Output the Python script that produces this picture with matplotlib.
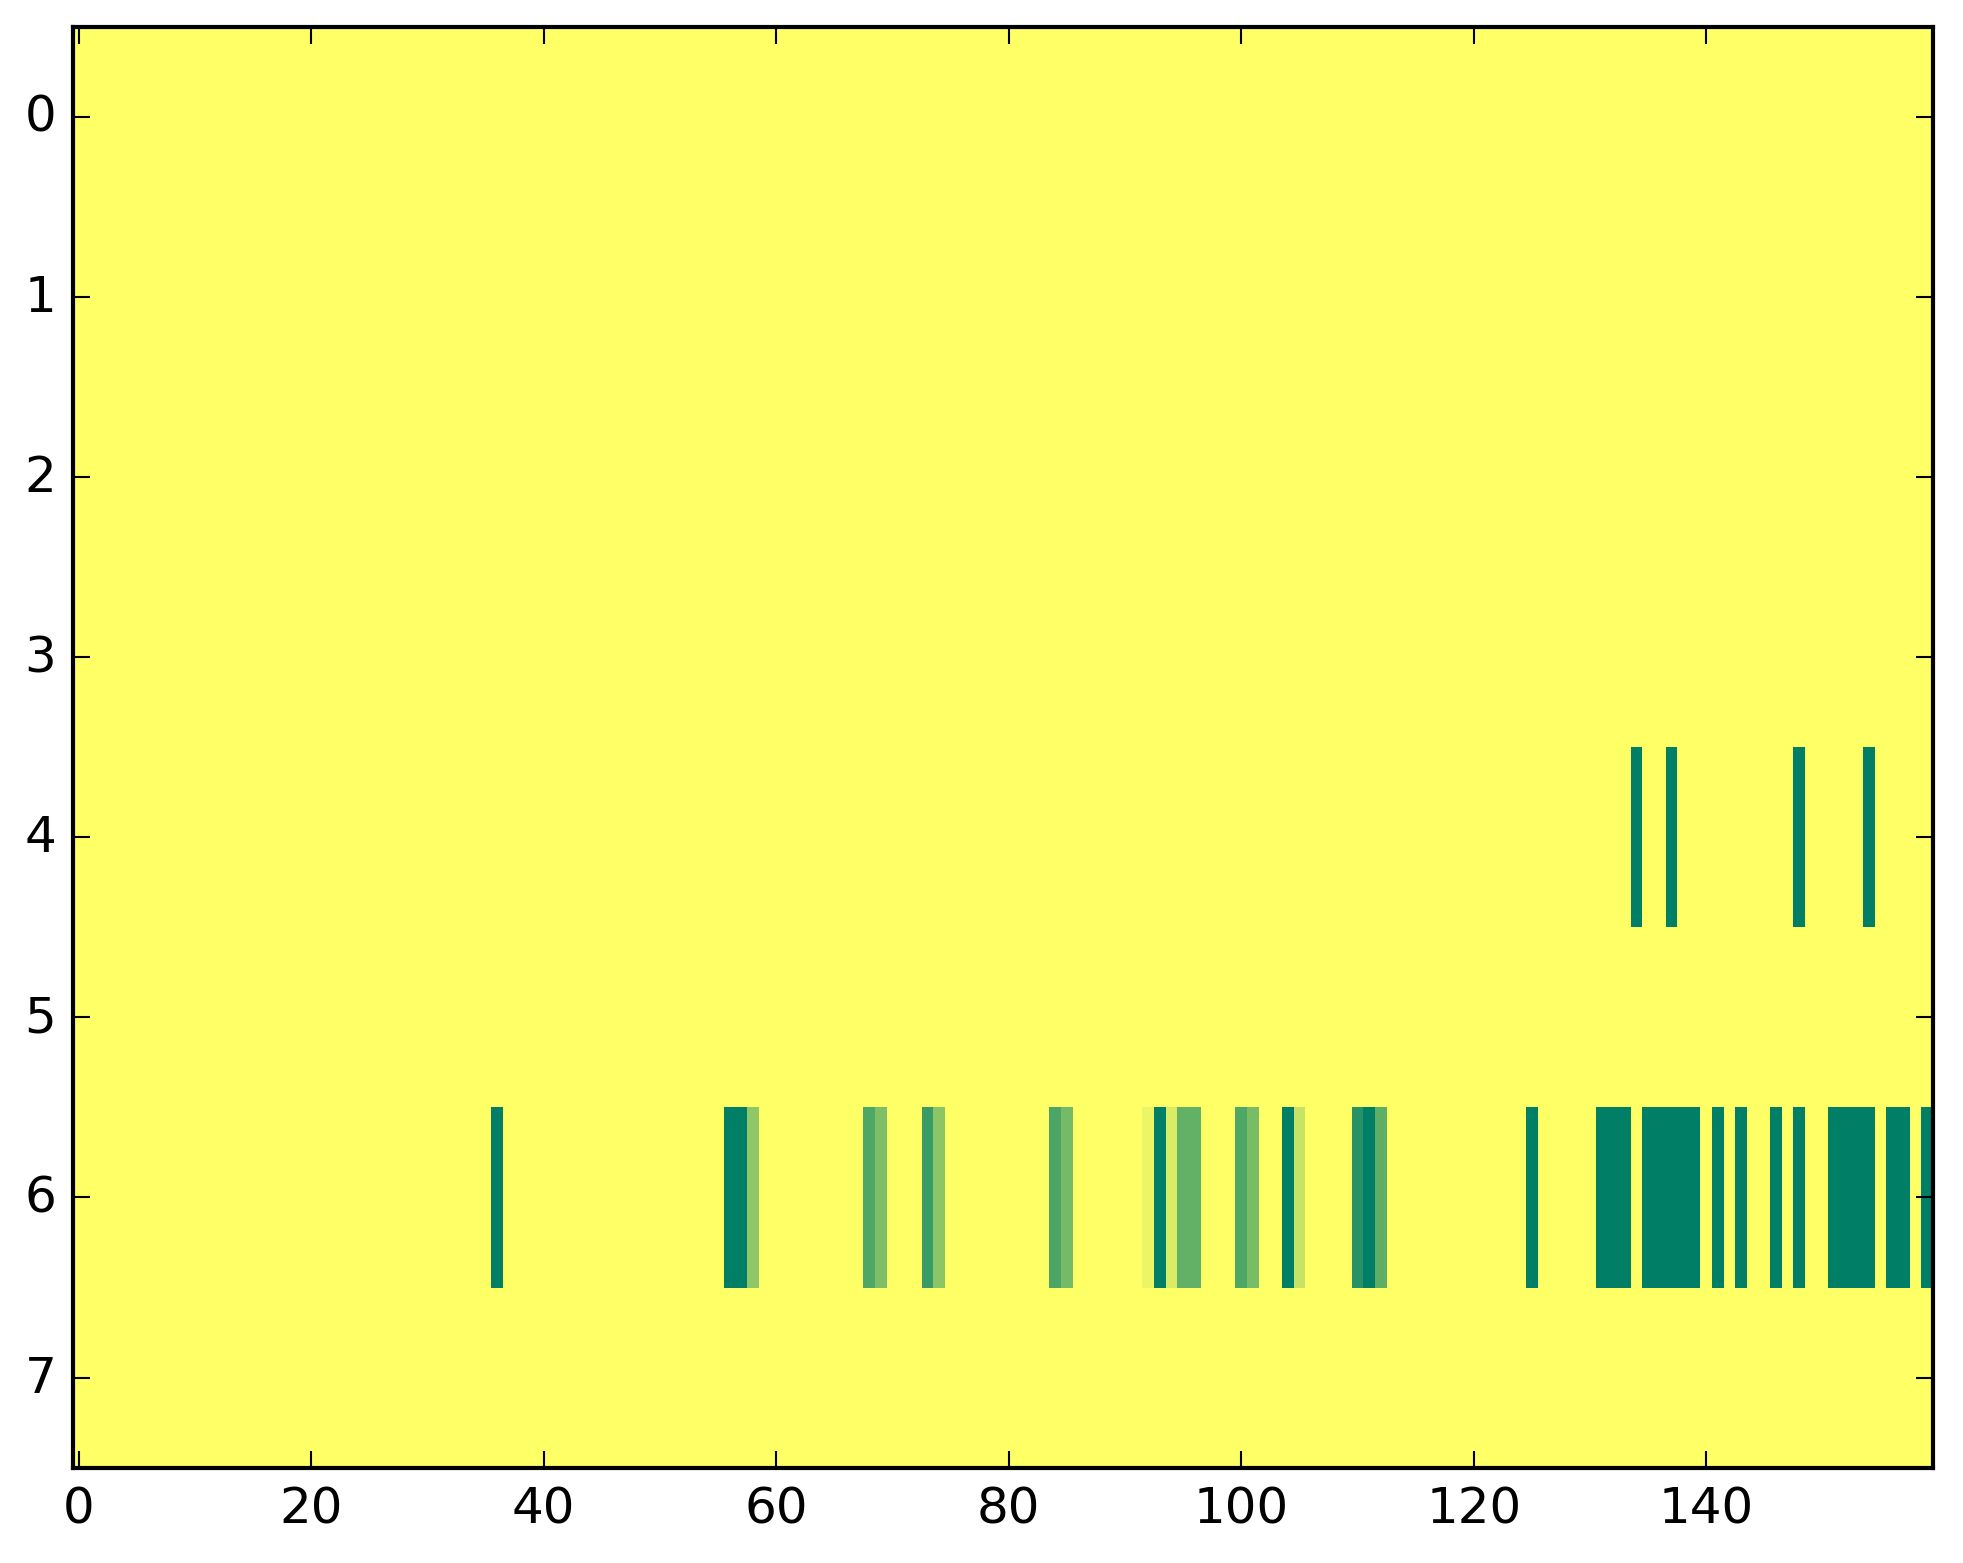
import numpy as np
import matplotlib
matplotlib.use("Agg")
import matplotlib.pyplot as plt

plt.style.use('classic')

n_rows = 8
n_cols = 160

# row 4: full-strength columns
row4_cols = [134, 137, 148, 154]

# row 6: column -> value (0..1)
row6_cols = [36, 56, 57, 58, 68, 69, 73, 74, 84, 85,
             92, 93, 94, 95, 96, 100, 101, 104, 105,
             110, 111, 112, 125,
             131, 132, 133, 135, 136, 137, 138, 139,
             141, 143, 146, 148, 151, 152, 153, 154,
             156, 157, 159]
row6_vals = [1.0, 1.0, 1.0, 0.44, 0.69, 0.51, 0.77, 0.45, 0.70, 0.54,
             0.08, 1.0, 0.15, 0.61, 0.61, 0.69, 0.52, 1.0, 0.22,
             0.85, 1.0, 0.63, 1.0,
             1.0, 1.0, 1.0, 1.0, 1.0, 1.0, 1.0, 1.0,
             1.0, 1.0, 1.0, 1.0, 1.0, 1.0, 1.0, 1.0,
             1.0, 1.0, 1.0]

grid = np.zeros((n_rows, n_cols))
grid[4, row4_cols] = 1.0
grid[6, row6_cols] = row6_vals

fig = plt.figure(figsize=(1963 / 300, 1564 / 300), dpi=300, facecolor='white')
ax = fig.add_axes([73 / 1963, 95.4 / 1564, 1860 / 1963, 1441 / 1564])
ax.imshow(grid, cmap='summer_r', vmin=0, vmax=1, aspect='auto',
          interpolation='nearest')
ax.set_xticks(np.arange(0, 160, 20))
ax.set_yticks(np.arange(0, 8))
ax.set_xlim(-0.5, n_cols - 0.5)
ax.set_ylim(n_rows - 0.5, -0.5)

fig.savefig('out.png', dpi=300, facecolor='white')
